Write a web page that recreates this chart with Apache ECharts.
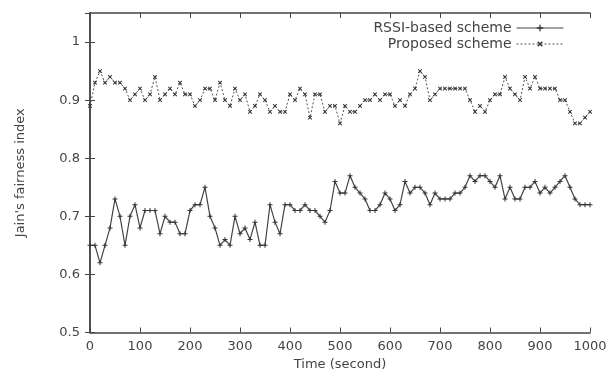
<!DOCTYPE html>
<html>
<head>
<meta charset="utf-8">
<script src="https://cdn.jsdelivr.net/npm/echarts@6/dist/echarts.min.js"></script>
<style>
  html, body { margin: 0; padding: 0; background: #fff; }
  #chart { width: 613px; height: 378px; }
</style>
</head>
<body>
<div id="chart"></div>
<script>
// sample times (s), one point every 10 s
const times = [];
for (let t = 0; t <= 1000; t += 10) times.push(t);

const rssiValues = [
  0.65, 0.65, 0.62, 0.65, 0.68, 0.73, 0.70, 0.65, 0.70, 0.72,
  0.68, 0.71, 0.71, 0.71, 0.67, 0.70, 0.69, 0.69, 0.67, 0.67,
  0.71, 0.72, 0.72, 0.75, 0.70, 0.68, 0.65, 0.66, 0.65, 0.70,
  0.67, 0.68, 0.66, 0.69, 0.65, 0.65, 0.72, 0.69, 0.67, 0.72,
  0.72, 0.71, 0.71, 0.72, 0.71, 0.71, 0.70, 0.69, 0.71, 0.76,
  0.74, 0.74, 0.77, 0.75, 0.74, 0.73, 0.71, 0.71, 0.72, 0.74,
  0.73, 0.71, 0.72, 0.76, 0.74, 0.75, 0.75, 0.74, 0.72, 0.74,
  0.73, 0.73, 0.73, 0.74, 0.74, 0.75, 0.77, 0.76, 0.77, 0.77,
  0.76, 0.75, 0.77, 0.73, 0.75, 0.73, 0.73, 0.75, 0.75, 0.76,
  0.74, 0.75, 0.74, 0.75, 0.76, 0.77, 0.75, 0.73, 0.72, 0.72,
  0.72
];

const proposedValues = [
  0.89, 0.93, 0.95, 0.93, 0.94, 0.93, 0.93, 0.92, 0.90, 0.91,
  0.92, 0.90, 0.91, 0.94, 0.90, 0.91, 0.92, 0.91, 0.93, 0.91,
  0.91, 0.89, 0.90, 0.92, 0.92, 0.90, 0.93, 0.90, 0.89, 0.92,
  0.90, 0.91, 0.88, 0.89, 0.91, 0.90, 0.88, 0.89, 0.88, 0.88,
  0.91, 0.90, 0.92, 0.91, 0.87, 0.91, 0.91, 0.88, 0.89, 0.89,
  0.86, 0.89, 0.88, 0.88, 0.89, 0.90, 0.90, 0.91, 0.90, 0.91,
  0.91, 0.89, 0.90, 0.89, 0.91, 0.92, 0.95, 0.94, 0.90, 0.91,
  0.92, 0.92, 0.92, 0.92, 0.92, 0.92, 0.90, 0.88, 0.89, 0.88,
  0.90, 0.91, 0.91, 0.94, 0.92, 0.91, 0.90, 0.94, 0.92, 0.94,
  0.92, 0.92, 0.92, 0.92, 0.90, 0.90, 0.88, 0.86, 0.86, 0.87,
  0.88
];

const seriesNames = ['RSSI-based scheme', 'Proposed scheme'];

const FONT = '"DejaVu Sans", Verdana, sans-serif';
const INK = '#444';
const plusPath = 'path://M4,0H6V4H10V6H6V10H4V6H0V4H4Z';

function pairs(values) {
  return values.map((v, i) => [times[i], v]);
}

const chart = echarts.init(document.getElementById('chart'), null, { renderer: 'canvas' });

const mirrorAxis = {
  axisLine: { show: true, lineStyle: { color: INK, width: 1.5 } },
  axisTick: { show: true, inside: true, length: 5, lineStyle: { color: INK } },
  axisLabel: { show: false },
  splitLine: { show: false }
};

chart.setOption({
  animation: false,
  backgroundColor: '#fff',
  textStyle: { fontFamily: FONT },
  grid: { left: 90, right: 23, top: 13, bottom: 45.5 },
  legend: {
    orient: 'vertical',
    right: 44,
    top: 16,
    align: 'right',
    itemWidth: 47,
    itemHeight: 8,
    itemGap: 2,
    lineStyle: { width: 1 },
    textStyle: { fontFamily: FONT, fontSize: 14, color: INK, padding: [0, 0, 0, 0] },
    data: seriesNames
  },
  xAxis: [
    {
      type: 'value',
      min: 0, max: 1000, interval: 100,
      name: 'Time (second)',
      nameLocation: 'middle',
      nameGap: 25,
      nameTextStyle: { fontFamily: FONT, fontSize: 13, color: INK },
      axisLine: { show: true, lineStyle: { color: INK, width: 1.5 } },
      axisTick: { inside: true, length: 5, lineStyle: { color: INK } },
      axisLabel: { fontFamily: FONT, fontSize: 13, color: INK, margin: 8, formatter: v => String(v) },
      splitLine: { show: false }
    },
    Object.assign({ type: 'value', position: 'top', min: 0, max: 1000, interval: 100 }, mirrorAxis)
  ],
  yAxis: [
    {
      type: 'value',
      min: 0.5, max: 1.05, interval: 0.1,
      name: "Jain's fairness index",
      nameLocation: 'middle',
      nameGap: 63,
      nameTextStyle: { fontFamily: FONT, fontSize: 13, color: INK },
      axisLine: { show: true, lineStyle: { color: INK, width: 1.5 } },
      axisTick: { inside: true, length: 5, lineStyle: { color: INK } },
      axisLabel: {
        fontFamily: FONT, fontSize: 13, color: INK, margin: 10,
        showMaxLabel: false,
        formatter: v => (Math.abs(v - 1) < 1e-9 ? '1' : v.toFixed(1))
      },
      splitLine: { show: false }
    },
    Object.assign({ type: 'value', position: 'right', min: 0.5, max: 1.05, interval: 0.1 }, mirrorAxis)
  ],
  series: [
    {
      name: seriesNames[0],
      type: 'line',
      data: pairs(rssiValues),
      symbol: plusPath,
      symbolSize: 5,
      showSymbol: true,
      lineStyle: { color: '#444', width: 1.2 },
      itemStyle: { color: '#333' }
    },
    {
      name: seriesNames[1],
      type: 'line',
      data: pairs(proposedValues),
      symbol: plusPath,
      symbolSize: 5,
      symbolRotate: 45,
      showSymbol: true,
      lineStyle: { color: '#555', width: 1, type: [2, 2] },
      itemStyle: { color: '#333' }
    }
  ]
});
</script>
</body>
</html>
